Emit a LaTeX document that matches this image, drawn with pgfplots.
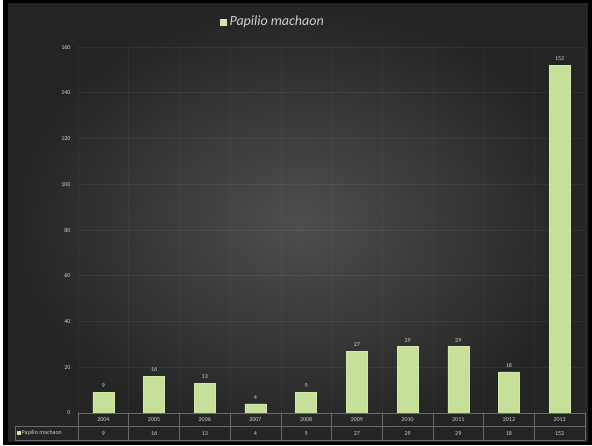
\documentclass[border=0pt]{standalone}
\usepackage{pgfplots}
\pgfplotsset{compat=1.18}
\usepackage{fontspec}
\setmainfont{Carlito}
\definecolor{bgin}{HTML}{4E4E4E}
\definecolor{bgout}{HTML}{242424}
\definecolor{barmid}{HTML}{D2E8A8}
\definecolor{barfill}{HTML}{C6E09A}
\definecolor{txt}{HTML}{CFCFCF}
\definecolor{tline}{HTML}{6A6A6A}
\begin{document}
\begin{tikzpicture}[x=1pt,y=1pt]
\fill[white] (0,0) rectangle (592,445);
\fill[black] (3,0) rectangle (592,445);
\shade[inner color=bgin, outer color=bgout] (8,4) rectangle (588,441);
\node[text=txt, font=\fontsize{14}{16}\selectfont] at (272,423)
  {{\color{barmid}\rule{7pt}{7pt}}\,\textit{Papilio machaon}};
\begin{axis}[
  at={(78pt,32pt)}, anchor=south west,
  scale only axis, width=507pt, height=366pt,
  xmin=-0.5, xmax=9.5, ymin=0, ymax=160,
  ytick={0,20,...,160},
  xtick={0,...,9},
  xticklabels={{2004\\9},{2005\\16},{2006\\13},{2007\\4},{2008\\9},{2009\\27},{2010\\29},{2011\\29},{2012\\18},{2013\\152}},
  minor xtick={-0.5,0.5,...,9.5},
  xminorgrids, ymajorgrids,
  grid style={draw=white, opacity=0.06, line width=0.6pt},
  minor grid style={draw=white, opacity=0.04, line width=0.6pt},
  major tick length=0pt, minor tick length=0pt,
  axis line style={draw=none},
  /pgf/number format/assume math mode=true,
  yticklabel style={font=\fontsize{6}{6}\selectfont, text=txt, xshift=-4pt},
  xticklabel style={align=center, font=\fontsize{6}{13.6}\selectfont, text=txt, yshift=-1.2pt},
  nodes near coords,
  every node near coord/.append style={font=\fontsize{6}{6}\selectfont, text=txt, yshift=1pt},
  clip=false,
]
\addplot[ybar, bar width=21pt, draw=barmid, line width=0.4pt, fill=barfill]
  coordinates {(0,9) (1,16) (2,13) (3,4) (4,9) (5,27) (6,29) (7,29) (8,18) (9,152)};
\end{axis}
\draw[tline, line width=0.5pt] (78,32) -- (585,32);
\draw[tline, line width=0.5pt] (15,19) -- (585,19);
\draw[tline, line width=0.5pt] (15,5) -- (585,5);
\draw[tline, line width=0.5pt] (15,5) -- (15,19);
\foreach \k in {0,...,10} {
  \draw[tline, line width=0.5pt] ({78+50.7*\k},5) -- ({78+50.7*\k},32);
}
\node[anchor=west, text=txt, font=\fontsize{6}{6}\selectfont, inner sep=0pt] at (17,12)
  {{\color{barmid}\rule{3.5pt}{3.5pt}}\,Papilio machaon};
\end{tikzpicture}
\end{document}
